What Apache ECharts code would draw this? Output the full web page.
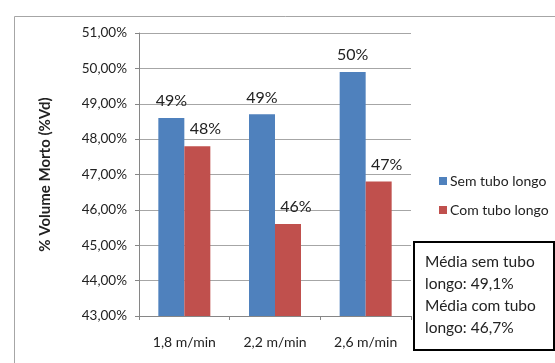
<!DOCTYPE html>
<html>
<head>
<meta charset="utf-8">
<script src="https://cdn.jsdelivr.net/npm/echarts@6/dist/echarts.min.js"></script>
<style>
  html, body { margin: 0; padding: 0; background: #fff; }
  #chart { width: 555px; height: 363px; }
</style>
</head>
<body>
<div id="chart"></div>
<script>
// Volume morto por velocidade de coleta
const categories = ['1,8 m/min', '2,2 m/min', '2,6 m/min'];
const semTubo = [48.6, 48.7, 49.9];
const comTubo = [47.8, 45.6, 46.8];
const seriesNames = ['Sem tubo longo', 'Com tubo longo'];
const yMin = 43, yMax = 51, yStep = 1;

const FONT = 'Lato, "Open Sans", sans-serif';

function mean(arr) { return arr.reduce((a, b) => a + b, 0) / arr.length; }
function fmtPct(v, d) { return v.toFixed(d).replace('.', ',') + '%'; }

const boxText = 'Média sem tubo\nlongo: ' + fmtPct(mean(semTubo), 1) +
                '\nMédia com tubo\nlongo: ' + fmtPct(mean(comTubo), 1);

const chart = echarts.init(document.getElementById('chart'), null, { renderer: 'canvas' });

const barLabel = {
  show: true,
  position: 'top',
  distance: 9,
  fontFamily: FONT,
  fontSize: 16,
  color: '#222',
  formatter: p => Math.round(p.value) + '%'
};

chart.setOption({
  animation: false,
  textStyle: { fontFamily: FONT },
  grid: { left: 139, right: 144, top: 33, bottom: 47, containLabel: false },
  xAxis: {
    type: 'category',
    data: categories,
    axisLine: { lineStyle: { color: '#868686' } },
    axisTick: { show: true, length: 4, lineStyle: { color: '#868686' } },
    axisLabel: { margin: 19, fontSize: 14, color: '#222', fontFamily: FONT }
  },
  yAxis: {
    type: 'value',
    min: yMin, max: yMax, interval: yStep,
    name: '% Volume Morto (%Vd)',
    nameLocation: 'middle',
    nameRotate: 90,
    nameGap: 86,
    nameTextStyle: { fontWeight: 'bold', fontSize: 15, color: '#222', fontFamily: FONT },
    axisLine: { show: true, lineStyle: { color: '#868686' } },
    axisTick: { show: true, length: 4, lineStyle: { color: '#868686' } },
    splitLine: { lineStyle: { color: '#a6a6a6' } },
    axisLabel: {
      margin: 12, fontSize: 13.5, color: '#222', fontFamily: FONT,
      formatter: v => fmtPct(v, 2)
    }
  },
  legend: {
    orient: 'vertical',
    left: 434, top: 169,
    itemWidth: 8, itemHeight: 8,
    itemGap: 15,
    icon: 'rect',
    textStyle: { fontSize: 14, color: '#222', fontFamily: FONT, padding: [0, 0, 0, -2] },
    data: seriesNames
  },
  series: [
    {
      name: seriesNames[0], type: 'bar', data: semTubo,
      barWidth: 26, barGap: '0%',
      itemStyle: { color: '#4F81BD' },
      label: barLabel
    },
    {
      name: seriesNames[1], type: 'bar', data: comTubo,
      barWidth: 26, barGap: '0%',
      itemStyle: { color: '#C0504D' },
      label: Object.assign({}, barLabel, { offset: [8, 0] })
    }
  ],
  graphic: [
    {
      type: 'rect', left: 12, top: 14, z: -1,
      shape: { width: 560, height: 360 },
      style: { fill: 'none', stroke: '#a6a6a6', lineWidth: 1 }
    },
    {
      type: 'rect', left: 413, top: 241,
      shape: { width: 140, height: 108 },
      style: { fill: '#fff', stroke: '#000', lineWidth: 2 }
    },
    {
      type: 'text', left: 425, top: 251,
      style: {
        text: boxText,
        font: '15.5px ' + FONT,
        fill: '#222',
        lineHeight: 22
      }
    }
  ]
});
</script>
</body>
</html>
